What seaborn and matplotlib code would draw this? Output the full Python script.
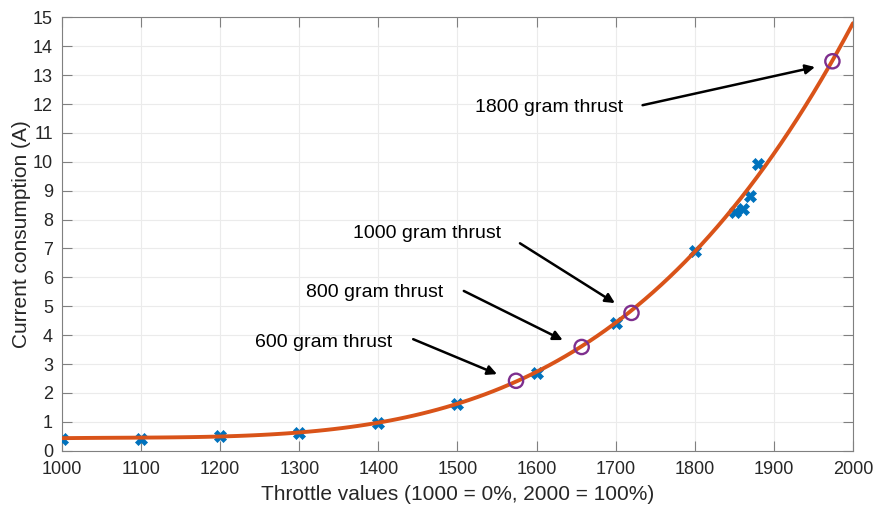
import numpy as np
import pandas as pd
import matplotlib
matplotlib.use("Agg")
import matplotlib.pyplot as plt
import seaborn as sns

# Measured current draw at each throttle setting
throttle = [1000, 1100, 1200, 1300, 1400, 1500, 1600, 1700, 1800, 1851, 1861, 1870, 1880]
current = [0.42, 0.42, 0.52, 0.62, 0.97, 1.63, 2.70, 4.43, 6.93, 8.28, 8.35, 8.80, 9.94]

# Fitted current-vs-throttle curve, sampled every 50 throttle units
fit_throttle = [1000, 1050, 1100, 1150, 1200, 1250, 1300, 1350, 1400, 1450, 1500,
                1550, 1600, 1650, 1700, 1750, 1800, 1850, 1900, 1950, 2000]
fit_current = [0.45, 0.43, 0.43, 0.46, 0.51, 0.57, 0.65, 0.77, 0.94, 1.22, 1.62,
               2.13, 2.76, 3.50, 4.40, 5.55, 6.93, 8.45, 10.25, 12.40, 14.80]

# Throttle / current at the marked thrust levels
thrust_labels = ["600 gram thrust", "800 gram thrust", "1000 gram thrust", "1800 gram thrust"]
thrust_throttle = [1574, 1657, 1720, 1974]
thrust_current = [2.42, 3.59, 4.77, 13.48]

x_ticks = list(range(1000, 2001, 100))
y_ticks = list(range(0, 16))

BLUE = "#0072BD"
ORANGE = "#D95319"
PURPLE = "#7E2F8E"
TXT = "#262626"

sns.set_theme(style="whitegrid")
plt.rcParams["font.family"] = ["Liberation Sans", "DejaVu Sans"]

fig = plt.figure(figsize=(8.77, 5.11), dpi=100)
ax = fig.add_axes([0.0707, 0.118, 0.9019, 0.848])

meas = pd.DataFrame({"throttle": throttle, "current": current})
fit = pd.DataFrame({"throttle": fit_throttle, "current": fit_current})

sns.scatterplot(data=meas, x="throttle", y="current", marker="X", s=75,
                color=BLUE, edgecolor=BLUE, linewidth=0.5, ax=ax, zorder=3)
# smooth polynomial trend through the sampled curve
sns.regplot(data=fit, x="throttle", y="current", order=5, ci=None, scatter=False,
            truncate=True, color=ORANGE, line_kws=dict(lw=2.8, zorder=4), ax=ax)
sns.scatterplot(x=thrust_throttle, y=thrust_current, marker="o", s=105,
                facecolor="none", edgecolor=PURPLE, linewidth=1.7, ax=ax, zorder=5)

# Annotation text anchors and arrow tails, in data units
label_pos = [(1244, 3.76), (1308, 5.46), (1368, 7.53), (1522, 11.89)]
arrow_tail = [(1444, 3.86), (1508, 5.53), (1579, 7.18), (1734, 11.96)]
arrow_head = [(1550, 2.65), (1633, 3.83), (1699, 5.11), (1952, 13.28)]
for lab, (tx, ty), tail, head in zip(thrust_labels, label_pos, arrow_tail, arrow_head):
    ax.text(tx, ty, lab, fontsize=14, color="black", va="center", ha="left")
    ax.annotate("", xy=head, xytext=tail,
                arrowprops=dict(arrowstyle="-|>", color="black", lw=1.8,
                                mutation_scale=14, shrinkA=0, shrinkB=0))

ax.set_xlim(1000, 2000)
ax.set_ylim(0, 15)
ax.set_xticks(x_ticks)
ax.set_yticks(y_ticks)
ax.set_xlabel("Throttle values (1000 = 0%, 2000 = 100%)", fontsize=15, color=TXT, labelpad=5)
ax.set_ylabel("Current consumption (A)", fontsize=15, color=TXT, labelpad=1)
ax.tick_params(axis="both", which="both", direction="in", length=7, width=0.8,
               color="#808080", labelsize=13, labelcolor=TXT,
               top=True, right=True, left=True, bottom=True)
ax.tick_params(axis="x", pad=7.5)
ax.tick_params(axis="y", pad=6.5)
ax.grid(True, color="#ebebeb", lw=0.8)
for sp in ax.spines.values():
    sp.set_visible(True)
    sp.set_color("#808080")
    sp.set_linewidth(0.8)
ax.set_facecolor("white")

fig.savefig("out.png", dpi=100)
